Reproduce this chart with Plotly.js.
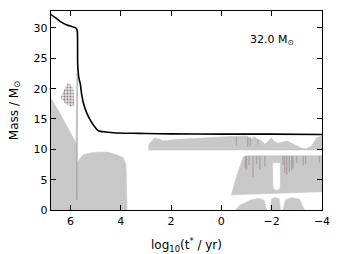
<!DOCTYPE html>
<html>
<head>
<meta charset="utf-8">
<script src="https://cdn.plot.ly/plotly-3.0.1.min.js"></script>
<style>body{margin:0;background:#fff}#chart{width:339px;height:254px}</style>
</head>
<body>
<div id="chart"></div>
<script>
// total stellar mass vs log10 of remaining time
var massT = [6.77, 6.6, 6.41, 6.14, 5.94, 5.8, 5.75, 5.72, 5.71, 5.68, 5.65, 5.61, 5.55, 5.48, 5.35, 5.22, 5.05, 4.89, 4.6, 4.16, 3.5, 3.0, 2.0, 0, -2, -4];
var massM = [32.2, 31.7, 31.1, 30.5, 30.25, 30.05, 29.8, 29.3, 24.0, 22.3, 21.5, 20.9, 19.0, 17.6, 16.0, 14.9, 13.8, 13.07, 12.85, 12.7, 12.65, 12.6, 12.55, 12.5, 12.5, 12.45];

// convective core (H burning + He burning)
var coreT = [6.77, 6.41, 5.80, 5.745, 5.74, 5.6, 5.48, 5.22, 4.82, 4.5, 4.16, 3.9, 3.79, 3.77, 3.75, 6.77];
var coreM = [18.4, 15.9, 11.2, 10.9, 7.6, 8.6, 9.1, 9.4, 9.55, 9.5, 9.1, 8.6, 7.5, 4.0, 0, 0];

// thin sliver just under the surface drop
var sliverT = [5.77, 5.74, 5.71, 5.72, 5.77];
var sliverM = [11.0, 22.5, 22.0, 11.0, 11.0];

// speckled semiconvective patch
var specT = [6.38, 6.25, 6.1, 6.0, 5.88, 5.85, 5.95, 6.2, 6.38];
var specM = [18.5, 19.8, 20.9, 20.7, 20.0, 17.3, 17.0, 17.5, 18.5];

// shell convection band below the surface
var bandT   = [2.90, 2.85, 2.64, 2.31, 1.8, 1.24, 0.5, -0.35, -1.0, -1.2, -1.3, -1.46, -1.6, -1.73, -1.85, -1.99, -2.1, -2.25, -2.45, -2.6, -2.79, -3.0, -3.18, -3.35, -3.58, -3.78, -4.0];
var bandTop = [10.2, 11.0, 11.9, 11.4, 11.6, 11.75, 11.95, 12.1, 12.2, 11.7, 12.1, 11.6, 11.4, 10.8, 11.3, 11.9, 11.3, 11.0, 11.2, 11.4, 11.0, 10.5, 10.2, 10.1, 10.5, 11.9, 12.2];
var bandBot = [9.9, 9.9, 9.9, 9.9, 9.9, 9.9, 9.9, 9.9, 9.9, 9.9, 9.9, 9.9, 9.9, 9.9, 9.9, 9.9, 9.9, 9.9, 9.9, 9.9, 9.9, 9.9, 9.9, 9.9, 9.9, 9.9, 9.9];

// late convective shell
var blockT = [-0.40, -0.6, -0.87, -0.95, -1.06, -4.0, -4.0, -2.5, -0.40];
var blockM = [2.5, 5.5, 8.7, 8.9, 8.95, 8.95, 3.0, 2.8, 2.5];
var gapT = [-2.06, -2.07, -2.12, -2.19, -2.27, -2.32, -2.32, -2.06];
var gapM = [7.7, 3.8, 3.4, 3.3, 3.4, 3.8, 7.7, 7.7];

// darker streaks inside the shells
var streakT   = [-0.95, -1.0, -1.1, -1.26, -1.4, -1.53, -1.73, -2.45, -2.52, -2.6, -2.7, -2.8, -2.85, -3.0, -3.25, -3.35, -0.6, -1.05, -1.15, -1.45, -3.9];
var streakTop = [8.9, 8.9, 8.9, 8.9, 8.9, 8.9, 8.9, 8.9, 8.9, 8.9, 8.9, 8.9, 8.9, 8.9, 8.9, 8.9, 12.1, 12.1, 12.0, 11.6, 8.9];
var streakBot = [6.9, 6.6, 7.4, 5.5, 7.6, 6.6, 7.2, 7.4, 6.1, 5.8, 6.3, 6.6, 7.0, 7.8, 7.3, 7.6, 10.6, 10.4, 10.6, 10.8, 7.8];

// small central bumps
var bump1T = [-0.55, -0.75, -0.95, -1.2, -1.5, -1.7, -1.8];
var bump1M = [0, 0.8, 1.2, 1.7, 1.9, 1.6, 0];
var bump2T = [-1.95, -2.0, -2.15, -2.3, -2.35];
var bump2M = [0, 1.8, 2.1, 1.8, 0];
var bump3T = [-2.45, -2.55, -2.8, -3.1, -3.3];
var bump3M = [0, 1.7, 2.0, 1.8, 0];

var grey = 'rgb(200,200,200)';

function patch(x, y, color, line) {
  return {x: x, y: y, type: 'scatter', mode: 'lines', fill: 'toself',
    fillcolor: color, line: {color: line || color, width: 0.6}, hoverinfo: 'none'};
}

function segs(t, top, bot) {
  var x = [], y = [];
  for (var i = 0; i < t.length; i++) {
    x.push(t[i], t[i], null);
    y.push(top[i], bot[i], null);
  }
  return {x: x, y: y};
}

var band = {x: bandT.concat(bandT.slice().reverse()), y: bandTop.concat(bandBot.slice().reverse())};
var st = segs(streakT, streakTop, streakBot);

var speck = patch(specT, specM, 'rgba(210,205,208,0.6)', 'rgba(200,195,198,0.2)');
speck.fillpattern = {shape: '.', fgcolor: 'rgb(140,122,132)', bgcolor: 'rgb(228,224,226)', size: 3, solidity: 0.35};

var data = [
  patch(coreT, coreM, grey),
  patch(sliverT, sliverM, grey, 'rgb(175,175,175)'),
  speck,
  patch(band.x, band.y, grey),
  patch(blockT, blockM, grey),
  patch(gapT, gapM, 'white'),
  patch(bump1T, bump1M, grey),
  patch(bump2T, bump2M, grey),
  patch(bump3T, bump3M, grey),
  {x: st.x, y: st.y, type: 'scatter', mode: 'lines', line: {color: 'rgba(150,128,140,0.55)', width: 1.3}, hoverinfo: 'none'},
  {x: [5.74, 5.74], y: [1.7, 11], type: 'scatter', mode: 'lines', line: {color: 'rgb(150,150,150)', width: 1}, hoverinfo: 'none'},
  {x: massT, y: massM, type: 'scatter', mode: 'lines', line: {color: 'black', width: 1.6, shape: 'spline', smoothing: 0.4}, hoverinfo: 'none'}
];

var axisBase = {
  showgrid: false, zeroline: false, ticks: 'inside', ticklen: 5, tickwidth: 1,
  tickcolor: 'black', showline: true, linecolor: 'black', linewidth: 1.3, mirror: 'ticks',
  tickfont: {family: 'DejaVu Sans', size: 11, color: 'black'}
};

var layout = {
  width: 339, height: 254,
  margin: {l: 51, r: 17, t: 11, b: 44},
  showlegend: false,
  paper_bgcolor: 'white', plot_bgcolor: 'white',
  font: {family: 'DejaVu Sans', size: 11, color: 'black'},
  xaxis: Object.assign({}, axisBase, {
    range: [6.77, -4], dtick: 2, tick0: 0,
    title: {text: 'log<sub>10</sub>(t<sup>*</sup> / yr)', font: {size: 12}, standoff: 14}
  }),
  yaxis: Object.assign({}, axisBase, {
    range: [0, 32.8], dtick: 5, tick0: 0,
    title: {text: 'Mass / M<sub>⊙</sub>', font: {size: 12}, standoff: 12}
  }),
  annotations: [{
    x: -2.0, y: 28.0, xref: 'x', yref: 'y', showarrow: false,
    text: '32.0 M<sub>⊙</sub>', font: {family: 'DejaVu Sans', size: 11, color: 'black'}
  }]
};

Plotly.newPlot('chart', data, layout, {displayModeBar: false, staticPlot: true});
</script>
</body>
</html>
